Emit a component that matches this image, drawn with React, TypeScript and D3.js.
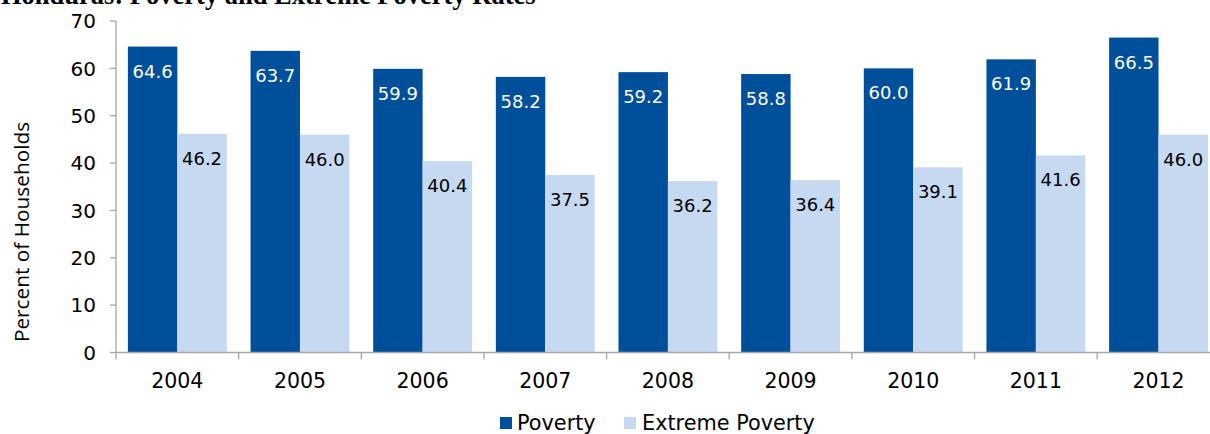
import React from 'react';
import * as d3 from 'd3';

const years = ['2004', '2005', '2006', '2007', '2008', '2009', '2010', '2011', '2012'];
const poverty = [64.6, 63.7, 59.9, 58.2, 59.2, 58.8, 60.0, 61.9, 66.5];
const extremePoverty = [46.2, 46.0, 40.4, 37.5, 36.2, 36.4, 39.1, 41.6, 46.0];
const yTicks = [0, 10, 20, 30, 40, 50, 60, 70];
const seriesNames = ['Poverty', 'Extreme Poverty'];

const DARK = '#004f9b';
const LIGHT = '#c6d9f1';
const AXIS = '#a6a6a6';
const SANS = '"DejaVu Sans", Verdana, sans-serif';

const App: React.FC = () => {
  const width = 1210;
  const height = 434;
  const left = 116;
  const step = 122.65;

  const x = d3.scaleBand<string>()
    .domain(years)
    .range([left, left + step * years.length])
    .paddingInner(0.194)
    .paddingOuter(0.097);

  const sub = d3.scaleBand<string>()
    .domain(seriesNames)
    .range([0, x.bandwidth()]);

  const y = d3.scaleLinear().domain([0, 70]).range([352.5, 21]);

  const series = [
    { name: seriesNames[0], values: poverty, fill: DARK, text: '#ffffff' },
    { name: seriesNames[1], values: extremePoverty, fill: LIGHT, text: '#000000' },
  ];

  // category boundary ticks
  const boundaries = years.map((_, i) => left + step * i).concat([left + step * years.length]);

  return (
    <svg
      width={width}
      height={height}
      style={{ position: 'absolute', left: 0, top: 0, background: '#fff' }}
    >
      {/* Title, cut off at the top like the source */}
      <text
        x={1}
        y={4}
        fontFamily='"Liberation Serif", "Times New Roman", serif'
        fontWeight="bold"
        fontSize={26.5}
        fill="#000"
      >
        Honduras: Poverty and Extreme Poverty Rates
      </text>

      {/* Bars */}
      {series.map((s) =>
        years.map((yr, i) => {
          const bx = (x(yr) ?? 0) + (sub(s.name) ?? 0);
          const by = y(s.values[i]);
          return (
            <g key={s.name + yr}>
              <rect
                x={bx}
                y={by}
                width={sub.bandwidth()}
                height={y(0) - by}
                fill={s.fill}
              />
              <text
                x={bx + sub.bandwidth() / 2}
                y={by + 31}
                textAnchor="middle"
                fontFamily={SANS}
                fontSize={18}
                fill={s.text}
              >
                {s.values[i].toFixed(1)}
              </text>
            </g>
          );
        })
      )}

      {/* Y axis */}
      <line x1={left} x2={left} y1={y(70)} y2={y(0)} stroke={AXIS} strokeWidth={1.3} />
      {yTicks.map((t) => (
        <g key={t}>
          <line x1={left - 6} x2={left} y1={y(t)} y2={y(t)} stroke={AXIS} strokeWidth={1.3} />
          <text
            x={96}
            y={y(t)}
            dy="0.36em"
            textAnchor="end"
            fontFamily={SANS}
            fontSize={20}
            fill="#000"
          >
            {t}
          </text>
        </g>
      ))}

      {/* X axis */}
      <line x1={left} x2={width} y1={y(0)} y2={y(0)} stroke={AXIS} strokeWidth={1.3} />
      {boundaries.map((bx, i) => (
        <line key={i} x1={bx} x2={bx} y1={y(0)} y2={y(0) + 7} stroke={AXIS} strokeWidth={1.3} />
      ))}
      {years.map((yr) => (
        <text
          key={yr}
          x={(x(yr) ?? 0) + x.bandwidth() / 2}
          y={388}
          textAnchor="middle"
          fontFamily={SANS}
          fontSize={20.5}
          fill="#000"
        >
          {yr}
        </text>
      ))}

      {/* Y axis title */}
      <text
        transform="translate(29, 232) rotate(-90)"
        textAnchor="middle"
        fontFamily='"Open Sans", "Noto Sans", sans-serif'
        fontSize={20.8}
        fill="#000"
      >
        Percent of Households
      </text>

      {/* Legend */}
      <rect x={500} y={417} width={12} height={12} fill={DARK} />
      <text x={517} y={430} fontFamily={SANS} fontSize={20.8} fill="#000">Poverty</text>
      <rect x={624} y={417} width={12} height={12} fill={LIGHT} />
      <text x={642} y={430} fontFamily={SANS} fontSize={20.8} fill="#000">Extreme Poverty</text>
    </svg>
  );
};

export default App;
